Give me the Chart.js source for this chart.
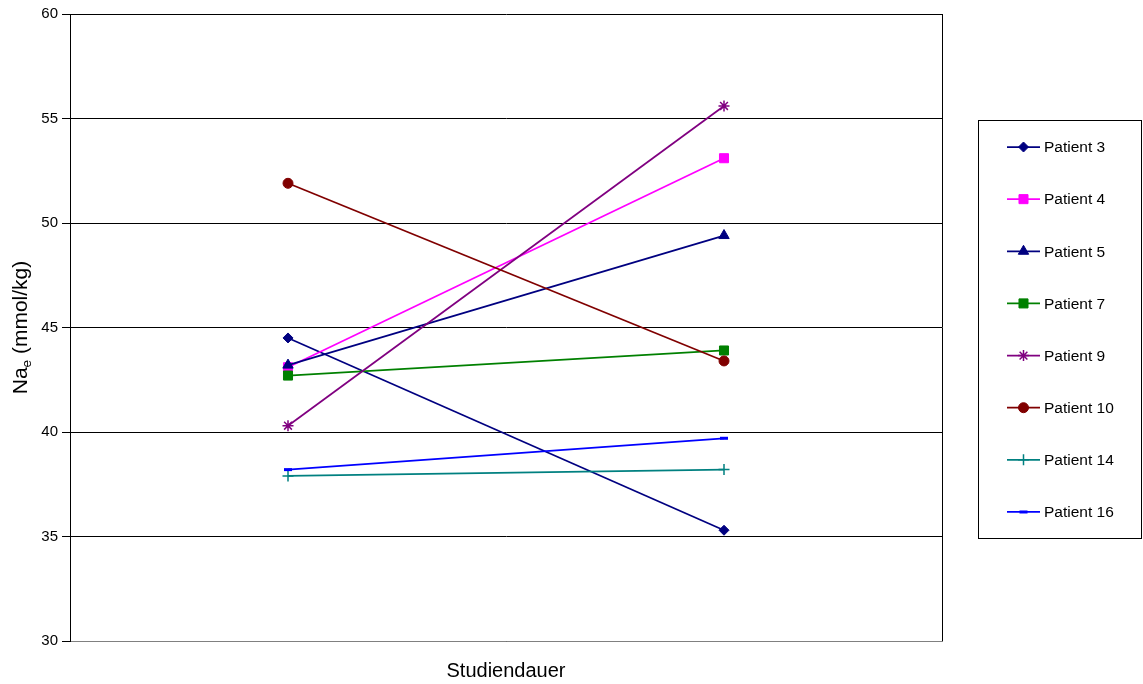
<!DOCTYPE html>
<html>
<head>
<meta charset="utf-8">
<script src="https://cdn.jsdelivr.net/npm/chart.js@4/dist/chart.umd.min.js"></script>
<style>
  html, body { margin: 0; padding: 0; background: #fff; }
  #wrap { width: 1143px; height: 684px; position: relative; }
</style>
</head>
<body>
<div id="wrap"><canvas id="c" width="1143" height="684"></canvas></div>
<script>
// Two measurement points per patient (start and end of the study period)
const timepoints = ['Beginn', 'Ende'];

const patient3  = [44.5, 35.3];
const patient4  = [43.1, 53.1];
const patient5  = [43.2, 49.4];
const patient7  = [42.7, 43.9];
const patient9  = [40.3, 55.6];
const patient10 = [51.9, 43.4];
const patient14 = [37.9, 38.2];
const patient16 = [38.2, 39.7];

const seriesNames = ['Patient 3', 'Patient 4', 'Patient 5', 'Patient 7',
                     'Patient 9', 'Patient 10', 'Patient 14', 'Patient 16'];
const seriesValues = [patient3, patient4, patient5, patient7,
                      patient9, patient10, patient14, patient16];
const seriesColors = ['#000080', '#FF00FF', '#000080', '#008000',
                      '#800080', '#800000', '#008080', '#0000FF'];
const seriesMarkers = ['rectRot', 'rect', 'triangle', 'rect',
                       'star', 'circle', 'cross', 'line'];
const markerRadius = { rectRot: 5, rect: 6.4, triangle: 6, star: 5.5, circle: 5, cross: 5.5, line: 4 };
const markerBorder = { rectRot: 1, rect: 1, triangle: 1, star: 1.5, circle: 1, cross: 1.5, line: 3 };

const yTicks = [30, 35, 40, 45, 50, 55, 60];
const yTitleMain = 'Na';
const yTitleSub = 'e';
const yTitleRest = ' (mmol/kg)';
const xTitle = 'Studiendauer';

const FONT = 'Arial, "Liberation Sans", sans-serif';

// later series are painted on top of earlier ones
const datasets = seriesNames.map((name, i) => ({
  label: name,
  data: seriesValues[i],
  order: seriesNames.length - i,
  borderColor: seriesColors[i],
  backgroundColor: seriesColors[i],
  borderWidth: 1.75,
  pointStyle: seriesMarkers[i],
  pointRadius: markerRadius[seriesMarkers[i]],
  pointBorderWidth: markerBorder[seriesMarkers[i]],
  pointBackgroundColor: seriesColors[i],
  pointBorderColor: seriesColors[i],
  tension: 0
}));

// Rotated y-axis title with a subscript, plus the right border of the plot
const axisDecor = {
  id: 'axisDecor',
  afterDraw(chart) {
    const { ctx, chartArea } = chart;
    ctx.save();
    ctx.strokeStyle = '#000';
    ctx.lineWidth = 1;
    ctx.beginPath();
    ctx.moveTo(Math.round(chartArea.right) + 0.5, chartArea.top);
    ctx.lineTo(Math.round(chartArea.right) + 0.5, chartArea.bottom);
    ctx.stroke();

    const big = 21, small = 13.5;
    ctx.fillStyle = '#000';
    ctx.textBaseline = 'alphabetic';
    ctx.textAlign = 'left';
    ctx.font = big + 'px ' + FONT;
    const wMain = ctx.measureText(yTitleMain).width;
    const wRest = ctx.measureText(yTitleRest).width;
    ctx.font = small + 'px ' + FONT;
    const wSub = ctx.measureText(yTitleSub).width;
    const total = wMain + wSub + wRest;
    const cy = (chartArea.top + chartArea.bottom) / 2;
    ctx.translate(27, cy);
    ctx.rotate(-Math.PI / 2);
    let x = -total / 2;
    ctx.font = big + 'px ' + FONT;
    ctx.fillText(yTitleMain, x, 0);
    x += wMain;
    ctx.font = small + 'px ' + FONT;
    ctx.fillText(yTitleSub, x, 4);
    x += wSub;
    ctx.font = big + 'px ' + FONT;
    ctx.fillText(yTitleRest, x, 0);
    ctx.restore();
  }
};

// Framed legend box on the right with line + marker samples
const boxLegend = {
  id: 'boxLegend',
  afterDraw(chart) {
    const { ctx } = chart;
    const left = 978.5, top = 120.5, width = 163, height = 418;
    ctx.save();
    ctx.strokeStyle = '#000';
    ctx.lineWidth = 1;
    ctx.strokeRect(left, top, width, height);
    const step = 52.14;
    chart.data.datasets.forEach((ds, i) => {
      const y = 147 + i * step;
      ctx.strokeStyle = ds.borderColor;
      ctx.lineWidth = 1.75;
      ctx.beginPath();
      ctx.moveTo(1007, y);
      ctx.lineTo(1040, y);
      ctx.stroke();
      ctx.fillStyle = ds.pointBackgroundColor;
      ctx.strokeStyle = ds.pointBorderColor;
      ctx.lineWidth = ds.pointBorderWidth;
      Chart.helpers.drawPoint(ctx, {
        pointStyle: ds.pointStyle,
        radius: ds.pointRadius,
        rotation: 0,
        borderWidth: ds.pointBorderWidth
      }, 1023.5, y);
      ctx.fillStyle = '#000';
      ctx.font = '15.5px ' + FONT;
      ctx.textAlign = 'left';
      ctx.textBaseline = 'middle';
      ctx.fillText(ds.label, 1044, y + 1);
    });
    ctx.restore();
  }
};

new Chart(document.getElementById('c'), {
  type: 'line',
  data: { labels: timepoints, datasets },
  plugins: [axisDecor, boxLegend],
  options: {
    responsive: false,
    animation: false,
    events: [],
    layout: { padding: { top: 14, right: 201, left: 0, bottom: 0 } },
    plugins: {
      legend: { display: false },
      tooltip: { enabled: false }
    },
    scales: {
      x: {
        type: 'category',
        offset: true,
        grid: { display: false, drawTicks: false },
        border: { display: true, color: '#808080', width: 1 },
        ticks: { display: false },
        title: {
          display: true,
          text: xTitle,
          color: '#000',
          font: { family: FONT, size: 20 },
          padding: { top: 0, bottom: 1 }
        },
        afterFit(scale) { scale.height = 43; }
      },
      y: {
        min: 30,
        max: 60,
        afterBuildTicks(scale) { scale.ticks = yTicks.map(v => ({ value: v })); },
        grid: {
          color: '#000',
          lineWidth: 1,
          drawTicks: true,
          tickLength: 8,
          tickColor: '#000'
        },
        border: { display: true, color: '#000', width: 1 },
        ticks: {
          color: '#000',
          padding: 4,
          font: { family: FONT, size: 15 }
        },
        afterFit(scale) { scale.width = 70; }
      }
    }
  }
});
</script>
</body>
</html>
